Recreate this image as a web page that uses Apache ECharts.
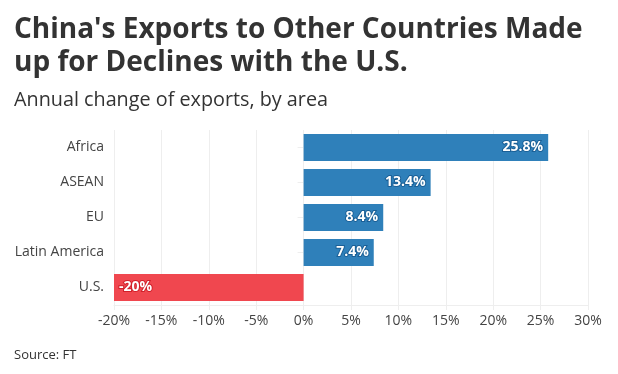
<!DOCTYPE html>
<html><head><meta charset="utf-8">
<script src="https://cdn.jsdelivr.net/npm/echarts@6/dist/echarts.min.js"></script>
<style>html,body{margin:0;padding:0;background:#fff}#c{width:618px;height:374px}</style>
</head><body><div id="c"></div>
<script>
const categories = ["Africa", "ASEAN", "EU", "Latin America", "U.S."];
const values = [25.8, 13.4, 8.4, 7.4, -20];
const valueLabels = ["25.8%", "13.4%", "8.4%", "7.4%", "-20%"];
const xTicks = [-20, -15, -10, -5, 0, 5, 10, 15, 20, 25, 30];

const chart = echarts.init(document.getElementById('c'), null, {renderer: 'canvas'});
const FONT = '"Open Sans", sans-serif';
chart.setOption({
  animation: false,
  title: [
    {text: "China's Exports to Other Countries Made\nup for Declines with the U.S.", left: 9, top: 9,
     textStyle: {fontFamily: FONT, fontWeight: 'bold', fontSize: 28, lineHeight: 33, color: '#333'}},
    {text: 'Annual change of exports, by area', left: 9, top: 85,
     textStyle: {fontFamily: FONT, fontWeight: 'normal', fontSize: 19.8, color: '#333'}},
    {text: 'Source: FT', left: 9, top: 344,
     textStyle: {fontFamily: FONT, fontWeight: 'normal', fontSize: 13, color: '#333'}}
  ],
  grid: {left: 114, right: 30, top: 130, bottom: 69, containLabel: false},
  xAxis: {
    type: 'value', min: -20, max: 30, interval: 5,
    axisLine: {show: true, lineStyle: {color: '#eeeeee'}},
    axisTick: {show: true, length: 5, lineStyle: {color: '#eeeeee'}},
    splitLine: {show: true, lineStyle: {color: '#eeeeee', width: 1}},
    axisLabel: {formatter: v => xTicks.includes(v) ? v + '%' : '', color: '#444', fontFamily: FONT, fontSize: 14, margin: 9}
  },
  yAxis: {
    type: 'category', data: categories, inverse: true,
    axisLine: {show: false},
    axisTick: {show: true, length: 6, alignWithLabel: true, lineStyle: {color: '#eeeeee'}},
    axisLabel: {color: '#444', fontFamily: FONT, fontSize: 14, margin: 10, padding: [3, 0, 0, 0]}
  },
  series: [{
    type: 'bar',
    data: values.map((v, i) => ({
      value: v,
      itemStyle: {color: v < 0 ? '#f0474f' : '#2f80ba'},
      label: {
        show: true, position: v < 0 ? 'insideLeft' : 'insideRight',
        formatter: valueLabels[i], color: '#fff', fontWeight: 'bold', fontFamily: FONT, fontSize: 14,
        textBorderColor: v < 0 ? '#d0202a' : '#1a5f96', textBorderWidth: 2
      }
    })),
    barWidth: 27
  }]
});
</script></body></html>
